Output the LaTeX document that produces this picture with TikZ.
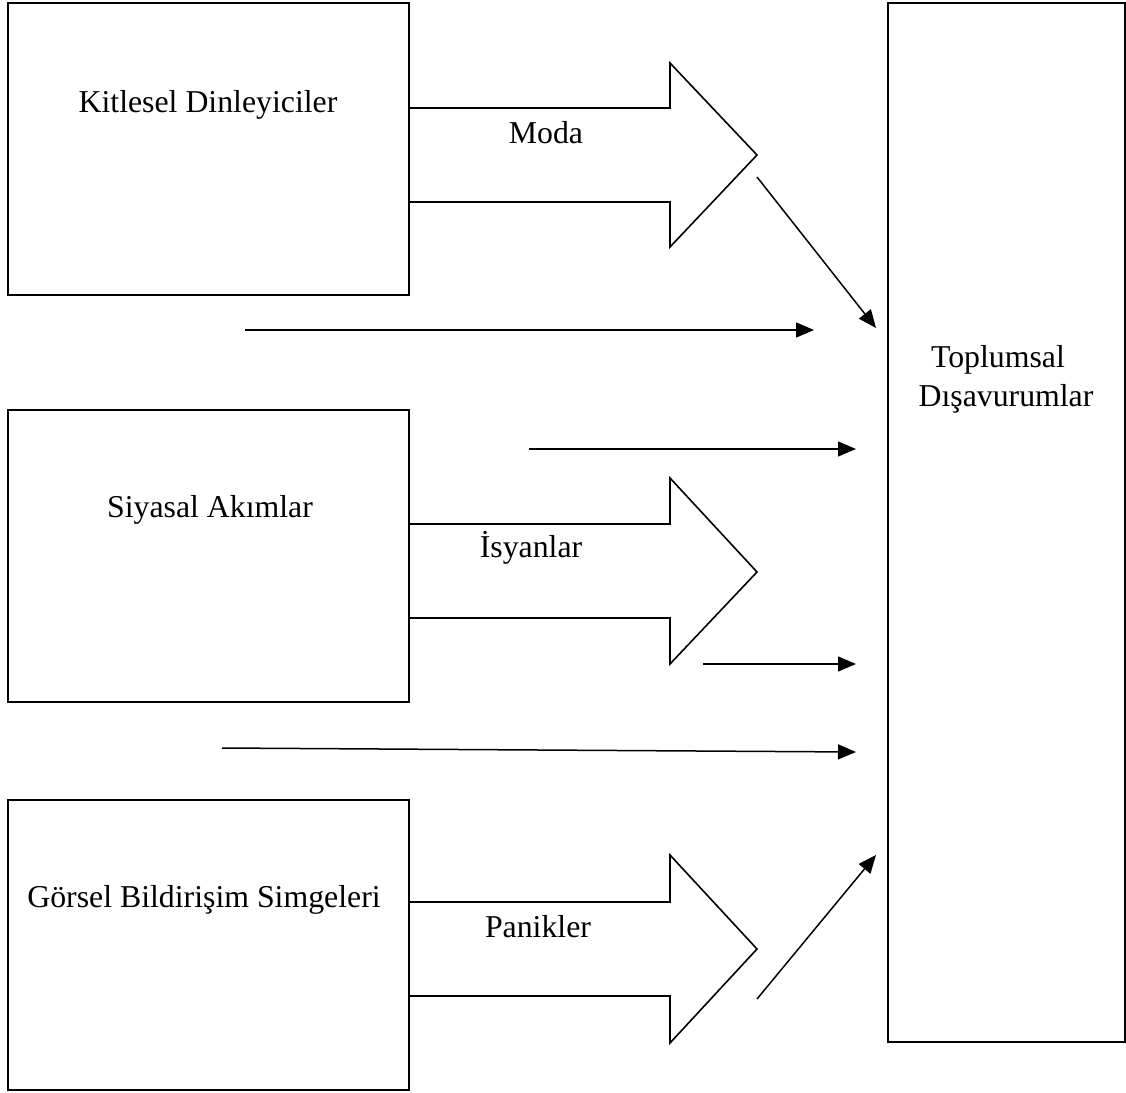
\documentclass[tikz,border=0pt]{standalone}
\usepackage{fontspec}
\setmainfont{Liberation Serif}
\usetikzlibrary{arrows.meta}
\begin{document}
\begin{tikzpicture}[x=0.5pt,y=-0.5pt,
  box/.style={draw, line width=0.9pt, inner sep=0pt},
  lbl/.style={anchor=base, inner sep=0pt, font=\fontsize{15.9pt}{20pt}\selectfont},
  blk/.style={draw, line width=0.8pt, line join=miter},
  con/.style={line width=0.75pt, -{Triangle[length=9pt,width=7.5pt]}}]
\useasboundingbox (0,0) rectangle (1126,1093);
% boxes
\node[box, minimum width=200.5pt, minimum height=146pt] (b1) at (208.5,149) {};
\node[box, minimum width=200.5pt, minimum height=146pt] (b2) at (208.5,556) {};
\node[box, minimum width=200.5pt, minimum height=145pt] (b3) at (208.5,945) {};
\node[box, minimum width=118.5pt, minimum height=519.5pt] (b4) at (1006.5,522.5) {};
% box labels
\node[lbl] (t1) at (208,112) {Kitlesel Dinleyiciler};
\node[lbl] (t2) at (210,517) {Siyasal Akımlar};
\node[lbl] (t3) at (204,907) {Görsel Bildirişim Simgeleri};
\node[lbl] (t4a) at (998,367) {Toplumsal};
\node[lbl] (t4b) at (1006,406) {Dışavurumlar};
% block arrows
\draw[blk] (409,108) -- (670,108) -- (670,63) -- (757,155) -- (670,247) -- (670,202) -- (409,202);
\draw[blk] (409,524) -- (670,524) -- (670,478) -- (757,572) -- (670,664) -- (670,618) -- (409,618);
\draw[blk] (409,902) -- (670,902) -- (670,855) -- (757,949) -- (670,1043) -- (670,996) -- (409,996);
\node[lbl] (m1) at (546,143) {Moda};
\node[lbl] (m2) at (531,557) {İsyanlar};
\node[lbl] (m3) at (538,937) {Panikler};
% connector ends
\coordinate (a1s) at (757,177); \coordinate (a1e) at (876,328);
\coordinate (a2s) at (245,330); \coordinate (a2e) at (814,330);
\coordinate (a3s) at (529,449); \coordinate (a3e) at (856,449);
\coordinate (a4s) at (703,664); \coordinate (a4e) at (856,664);
\coordinate (a5s) at (222,748); \coordinate (a5e) at (856,752);
\coordinate (a6s) at (757,999); \coordinate (a6e) at (876,855);
\draw[con] (a1s) -- (a1e);
\draw[con] (a2s) -- (a2e);
\draw[con] (a3s) -- (a3e);
\draw[con] (a4s) -- (a4e);
\draw[con] (a5s) -- (a5e);
\draw[con] (a6s) -- (a6e);
\end{tikzpicture}
\end{document}
